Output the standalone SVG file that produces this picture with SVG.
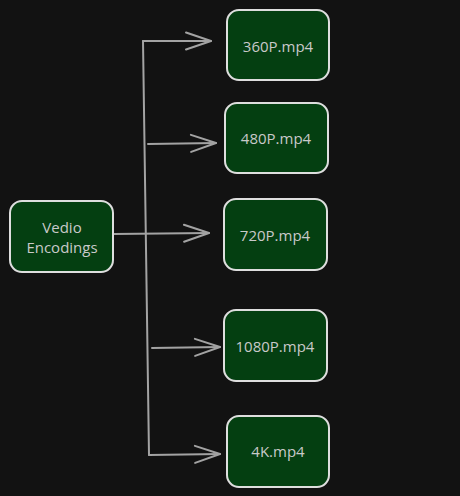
<svg xmlns="http://www.w3.org/2000/svg" width="460" height="496" viewBox="0 0 460 496">
<defs>
<marker id="arr" markerUnits="userSpaceOnUse" markerWidth="40" markerHeight="30" refX="0" refY="0" viewBox="-30 -15 40 30" orient="auto" overflow="visible">
<path d="M-25,-8.5 L0,0 L-25,8.5" fill="none" stroke="#a3a3a3" stroke-width="2" stroke-linecap="round" stroke-linejoin="round"/>
</marker>
<style>
.box{fill:#043f11;stroke:#dedede;stroke-width:2}
.lbl{font-family:"Open Sans","Noto Sans",sans-serif;font-size:15px;fill:#c9c9c9;text-anchor:middle;dominant-baseline:central}
.ln{fill:none;stroke:#a3a3a3;stroke-width:2;stroke-linecap:round;stroke-linejoin:round}
</style>
</defs>
<rect width="460" height="496" fill="#121212"/>
<g id="connectors">
<path class="ln" d="M143,41 L149,455"/>
<path class="ln" d="M143,41 L211,41" marker-end="url(#arr)"/>
<path class="ln" d="M148,144 L216,143" marker-end="url(#arr)"/>
<path class="ln" d="M114,234 L209,233" marker-end="url(#arr)"/>
<path class="ln" d="M152,348 L220,347" marker-end="url(#arr)"/>
<path class="ln" d="M149,455 L220,454" marker-end="url(#arr)"/>
</g>
<g id="node-vedio">
<rect class="box" x="10" y="201" width="103" height="71" rx="12"/>
<text class="lbl" x="62" y="227">Vedio</text>
<text class="lbl" x="62" y="247">Encodings</text>
</g>
<g id="node-360p">
<rect class="box" x="227" y="10" width="102" height="70" rx="12"/>
<text class="lbl" x="278" y="46">360P.mp4</text>
</g>
<g id="node-480p">
<rect class="box" x="225" y="103" width="103" height="70" rx="12"/>
<text class="lbl" x="276" y="138">480P.mp4</text>
</g>
<g id="node-720p">
<rect class="box" x="224" y="199" width="103" height="71" rx="12"/>
<text class="lbl" x="275" y="235">720P.mp4</text>
</g>
<g id="node-1080p">
<rect class="box" x="224" y="310" width="103" height="71" rx="12"/>
<text class="lbl" x="275" y="346">1080P.mp4</text>
</g>
<g id="node-4k">
<rect class="box" x="227" y="416" width="102" height="71" rx="12"/>
<text class="lbl" x="278" y="451">4K.mp4</text>
</g>
</svg>
